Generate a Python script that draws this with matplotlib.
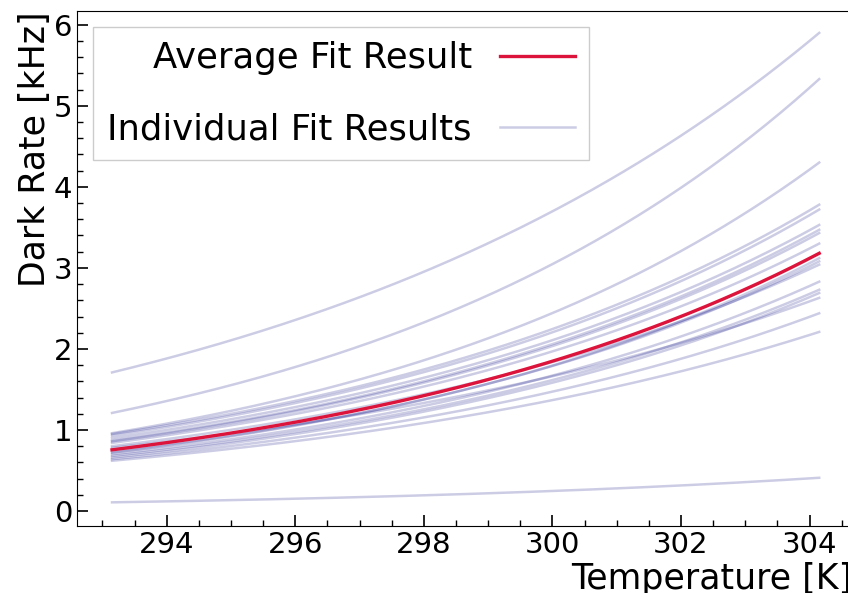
import numpy as np
import matplotlib
matplotlib.use("Agg")
import matplotlib.pyplot as plt
from matplotlib.ticker import MultipleLocator

# Fit range of the temperature scan [K]
t_start = 293.15
t_end = 304.15

# Individual exponential fits: dark rate [kHz] at the start and end of the range
indiv_start = [1.71, 1.21, 0.96, 0.95, 0.93, 0.90, 0.87, 0.86, 0.84, 0.72,
               0.73, 0.80, 0.70, 0.68, 0.66, 0.78, 0.64, 0.62, 0.107]
indiv_end = [5.90, 5.33, 4.30, 3.78, 3.72, 3.53, 3.47, 3.43, 3.30, 3.12,
             3.08, 3.04, 2.83, 2.73, 2.69, 2.63, 2.44, 2.21, 0.41]

# Average fit
avg_start = 0.755
avg_end = 3.18


def dark_rate(t, r0, r1):
    """Exponential model R(T) = R0 * exp(k (T - T0)) through (T0, r0) and (T1, r1)."""
    k = np.log(r1 / r0) / (t_end - t_start)
    return r0 * np.exp(k * (t - t_start))


temps = np.linspace(t_start, t_end, 200)

fig = plt.figure(figsize=(8.48, 5.93), dpi=100)
ax = fig.add_axes([77.3 / 848, 67 / 593, (852 - 77.3) / 848, (526 - 11) / 593])

for i, (r0, r1) in enumerate(zip(indiv_start, indiv_end)):
    ax.plot(temps, dark_rate(temps, r0, r1), color="navy", alpha=0.2, lw=1.8,
            label="Individual Fit Results" if i == 0 else None, zorder=2)

ax.plot(temps, dark_rate(temps, avg_start, avg_end), color="#dc143c", lw=2.4,
        label="Average Fit Result", zorder=3)

ax.set_xlim(292.61, 304.66)
ax.set_ylim(-0.185, 6.17)
ax.xaxis.set_major_locator(MultipleLocator(2))
ax.xaxis.set_minor_locator(MultipleLocator(0.5))
ax.yaxis.set_major_locator(MultipleLocator(1))
ax.yaxis.set_minor_locator(MultipleLocator(0.2))
ax.tick_params(which="both", direction="in", labelsize=21)
ax.tick_params(which="major", length=8, width=1.2)
ax.tick_params(which="minor", length=4.5, width=1.0)
ax.spines["right"].set_visible(False)

ax.set_xlabel("Temperature [K]", fontsize=25, loc="right", labelpad=2)
ax.set_ylabel("Dark Rate [kHz]", fontsize=25, loc="top", labelpad=1)

handles, labels = ax.get_legend_handles_labels()
leg = ax.legend(handles[::-1], labels[::-1], loc="upper left", fontsize=25.5,
                markerfirst=False, fancybox=False, edgecolor="#cccccc",
                framealpha=1.0, handlelength=2.1, labelspacing=1.05,
                borderaxespad=0.45)
leg.get_frame().set_linewidth(1.0)

fig.savefig("out.png", dpi=100)
